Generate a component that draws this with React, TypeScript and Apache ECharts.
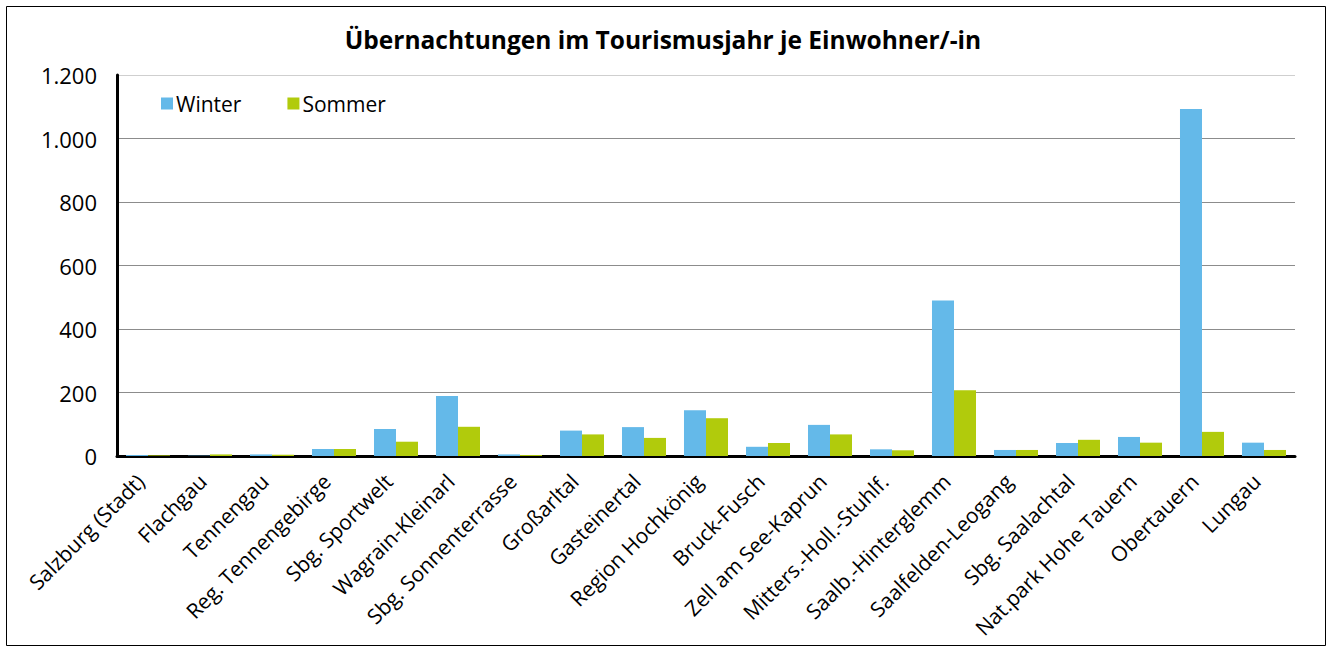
import React, { useEffect, useRef } from "react";
import * as echarts from "echarts";

const categories = [
  "Salzburg (Stadt)", "Flachgau", "Tennengau", "Reg. Tennengebirge", "Sbg. Sportwelt",
  "Wagrain-Kleinarl", "Sbg. Sonnenterrasse", "Großarltal", "Gasteinertal", "Region Hochkönig",
  "Bruck-Fusch", "Zell am See-Kaprun", "Mitters.-Holl.-Stuhlf.", "Saalb.-Hinterglemm",
  "Saalfelden-Leogang", "Sbg. Saalachtal", "Nat.park Hohe Tauern", "Obertauern", "Lungau",
];
const winter = [3, 1, 5, 22, 85, 189, 5, 80, 91, 144, 29, 98, 21, 490, 19, 41, 60, 1093, 42];
const sommer = [2, 5, 4, 22, 45, 92, 3, 68, 57, 119, 41, 68, 18, 207, 19, 51, 42, 76, 19];
const yTicks = [0, 200, 400, 600, 800, 1000, 1200];

const FONT = "'Open Sans', 'Noto Sans', sans-serif";

function fmt(v: number) {
  return v.toLocaleString("de-DE");
}

export default function App() {
  const ref = useRef<HTMLDivElement>(null);
  useEffect(() => {
    document.body.style.margin = "0";
    const chart = echarts.init(ref.current!, null, { renderer: "svg" });
    chart.setOption({
      animation: false,
      backgroundColor: "#fff",
      title: {
        text: "Übernachtungen im Tourismusjahr je Einwohner/-in",
        left: "center",
        top: 22,
        textStyle: { fontFamily: FONT, fontSize: 24.5, fontWeight: "bold", color: "#000" },
      },
      legend: {
        left: 156,
        top: 88,
        itemWidth: 12,
        itemHeight: 12,
        itemGap: 46,
        icon: "rect",
        textStyle: { fontFamily: FONT, fontSize: 21, color: "#000", padding: [0, 0, 0, -2] },
        data: ["Winter", "Sommer"],
      },
      grid: { left: 117, right: 31, top: 75, bottom: 190, containLabel: false },
      xAxis: {
        type: "category",
        data: categories,
        axisLine: { show: true, lineStyle: { color: "#000", width: 3 } },
        axisTick: { show: false },
        axisLabel: {
          rotate: 45,
          interval: 0,
          margin: 29,
          align: "right",
          verticalAlign: "bottom",
          fontFamily: FONT,
          fontSize: 21,
          color: "#000",
        },
      },
      yAxis: {
        type: "value",
        min: 0,
        max: 1200,
        interval: 200,
        axisLine: { show: true, lineStyle: { color: "#000", width: 3 } },
        axisTick: { show: false },
        splitLine: {
          lineStyle: {
            color: ["#8c8c8c", "#8c8c8c", "#8c8c8c", "#8c8c8c", "#8c8c8c", "#8c8c8c", "#cfcfcf"],
            width: 1,
          },
        },
        axisLabel: {
          fontFamily: FONT,
          fontSize: 22,
          color: "#000",
          margin: 20,
          formatter: (v: number) => (yTicks.includes(v) ? fmt(v) : ""),
        },
      },
      series: [
        {
          name: "Winter",
          type: "bar",
          data: winter,
          barGap: "0%",
          barCategoryGap: "29%",
          itemStyle: { color: "#64b9e9" },
        },
        {
          name: "Sommer",
          type: "bar",
          data: sommer,
          itemStyle: { color: "#b1cb0c" },
        },
      ],
      graphic: [
        {
          type: "rect",
          left: 4,
          top: 4,
          shape: { width: 1319, height: 639 },
          style: { fill: "none", stroke: "#000", lineWidth: 1 },
          silent: true,
        },
      ],
    });
    return () => chart.dispose();
  }, []);
  return <div ref={ref} style={{ width: 1326, height: 646 }} />;
}
